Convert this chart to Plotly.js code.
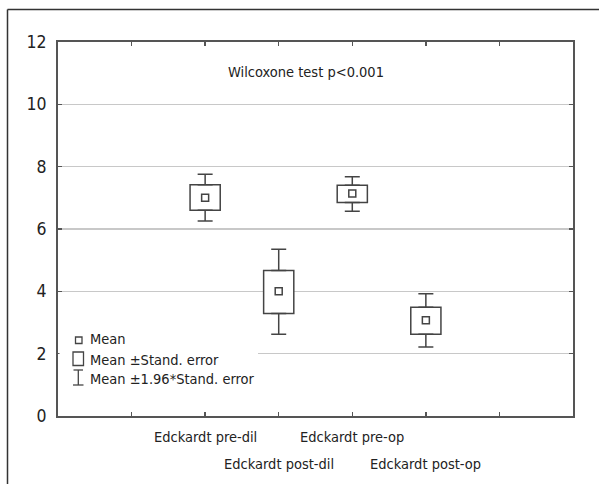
<!DOCTYPE html>
<html>
<head>
<meta charset="utf-8">
<script src="https://cdn.plot.ly/plotly-3.0.1.min.js"></script>
<style>html,body{margin:0;padding:0;background:#fff;overflow:hidden;}#chart{width:599px;height:484px;}</style>
</head>
<body>
<div id="chart"></div>
<script>
// ---- data ----
const categories = ['Edckardt pre-dil', 'Edckardt post-dil', 'Edckardt pre-op', 'Edckardt post-op'];
const meanValues = [7.00, 4.00, 7.14, 3.07];
const seHigh     = [7.42, 4.67, 7.40, 3.49];
const seLow      = [6.60, 3.29, 6.85, 2.62];
const ciHigh     = [7.76, 5.35, 7.68, 3.92];
const ciLow      = [6.26, 2.62, 6.57, 2.21];
const yTickVals  = [0, 2, 4, 6, 8, 10, 12];
const xTickVals  = [1, 2, 3, 4, 5, 6];
const legendLabels = ['Mean', 'Mean \u00B1Stand. error', 'Mean \u00B11.96*Stand. error'];
const noteText = 'Wilcoxone test p<0.001';

// ---- layout constants ----
const W = 599, H = 484;
const L = 58, R = 573, T = 42, B = 416;
const FONT = 'Liberation Sans Narrow, DejaVu Sans Condensed, Arial Narrow, sans-serif';
const INK = '#444444';
const px = x => (x - L) / (R - L);
const py = y => (B - y) / (B - T);

const xPos = categories.map((c, i) => i + 2);

const boxTrace = {
  type: 'bar', x: xPos, base: seLow,
  y: seHigh.map((h, i) => h - seLow[i]),
  width: 0.41,
  marker: {color: '#ffffff', line: {color: INK, width: 1.5}},
  hoverinfo: 'skip', showlegend: false
};
const upperWhisker = {
  type: 'scatter', mode: 'markers', x: xPos, y: seHigh,
  marker: {opacity: 0, size: 1},
  error_y: {type: 'data', symmetric: false,
    array: ciHigh.map((v, i) => v - seHigh[i]),
    arrayminus: seHigh.map(() => 0),
    color: INK, thickness: 1.5, width: 7.5},
  hoverinfo: 'skip', showlegend: false
};
const lowerWhisker = {
  type: 'scatter', mode: 'markers', x: xPos, y: seLow,
  marker: {opacity: 0, size: 1},
  error_y: {type: 'data', symmetric: false,
    array: seLow.map(() => 0),
    arrayminus: seLow.map((v, i) => v - ciLow[i]),
    color: INK, thickness: 1.5, width: 7.5},
  hoverinfo: 'skip', showlegend: false
};
const meanTrace = {
  type: 'scatter', mode: 'markers', x: xPos, y: meanValues,
  marker: {symbol: 'square-open', size: 7, color: INK, line: {width: 1.5, color: INK}},
  hoverinfo: 'skip', showlegend: false
};

const shapes = [
  // outer frame: only left and top sides are inside the picture
  {type: 'line', xref: 'paper', yref: 'paper', x0: px(7.5), x1: px(7.5), y0: py(484), y1: py(9.5),
   line: {color: '#333333', width: 1.5}, layer: 'above'},
  {type: 'line', xref: 'paper', yref: 'paper', x0: px(7.5), x1: px(599), y0: py(9.5), y1: py(9.5),
   line: {color: '#333333', width: 1.5}, layer: 'above'},
  // legend background
  {type: 'rect', xref: 'paper', yref: 'paper', x0: px(59.5), x1: px(258), y0: py(392), y1: py(330),
   line: {width: 0}, fillcolor: '#ffffff', layer: 'above'},
  // legend symbol: mean
  {type: 'rect', xref: 'paper', yref: 'paper', x0: px(75.5), x1: px(82), y0: py(343.5), y1: py(337),
   line: {color: INK, width: 1.3}, fillcolor: 'rgba(0,0,0,0)', layer: 'above'},
  // legend symbol: SE box
  {type: 'rect', xref: 'paper', yref: 'paper', x0: px(73), x1: px(83.5), y0: py(365.5), y1: py(352),
   line: {color: INK, width: 1.3}, fillcolor: 'rgba(0,0,0,0)', layer: 'above'},
  // legend symbol: whisker
  {type: 'line', xref: 'paper', yref: 'paper', x0: px(78.3), x1: px(78.3), y0: py(385), y1: py(370),
   line: {color: INK, width: 1.3}, layer: 'above'},
  {type: 'line', xref: 'paper', yref: 'paper', x0: px(73.5), x1: px(83), y0: py(370), y1: py(370),
   line: {color: INK, width: 1.3}, layer: 'above'},
  {type: 'line', xref: 'paper', yref: 'paper', x0: px(73), x1: px(83.5), y0: py(385), y1: py(385),
   line: {color: INK, width: 1.3}, layer: 'above'}
];

const legendY = [339, 359.5, 379];
const annotations = [
  {text: noteText, xref: 'paper', yref: 'paper', x: px(306), y: py(72), showarrow: false,
   font: {family: FONT, size: 14.5, color: '#222'}, xanchor: 'center', yanchor: 'middle'}
];
legendLabels.forEach((t, i) => annotations.push({
  text: t, xref: 'paper', yref: 'paper', x: px(88), y: py(legendY[i]), showarrow: false,
  font: {family: FONT, size: 14.5, color: '#222'}, xanchor: 'left', yanchor: 'middle'
}));
categories.forEach((c, i) => annotations.push({
  text: c, xref: 'x', yref: 'paper', x: xPos[i], y: py(i % 2 === 0 ? 437 : 464), showarrow: false,
  font: {family: FONT, size: 14.5, color: '#222'}, xanchor: 'center', yanchor: 'middle'
}));

const layout = {
  width: W, height: H,
  margin: {l: L, r: W - R, t: T, b: H - B, pad: 0},
  paper_bgcolor: '#ffffff', plot_bgcolor: '#ffffff',
  showlegend: false,
  barmode: 'overlay',
  font: {family: FONT, size: 16, color: '#222'},
  xaxis: {range: [0, 7], tickvals: xTickVals, showticklabels: false,
    ticks: 'inside', ticklen: 4, tickwidth: 1.5, tickcolor: '#555',
    showline: true, linecolor: '#555', linewidth: 2, mirror: 'ticks',
    showgrid: false, zeroline: false, fixedrange: true},
  yaxis: {range: [0, 12], tickvals: yTickVals,
    ticks: 'inside', ticklen: 4, tickwidth: 1.5, tickcolor: '#555',
    showline: true, linecolor: '#555', linewidth: 2, mirror: 'ticks',
    showgrid: true, gridcolor: '#c8c8c8', gridwidth: 1.5, zeroline: false,
    ticklabelstandoff: 6,
    tickfont: {family: FONT, size: 17.5, color: '#222'}, fixedrange: true},
  shapes: shapes,
  annotations: annotations
};

Plotly.newPlot('chart', [boxTrace, upperWhisker, lowerWhisker, meanTrace], layout, {displayModeBar: false, staticPlot: true});
</script>
</body>
</html>
